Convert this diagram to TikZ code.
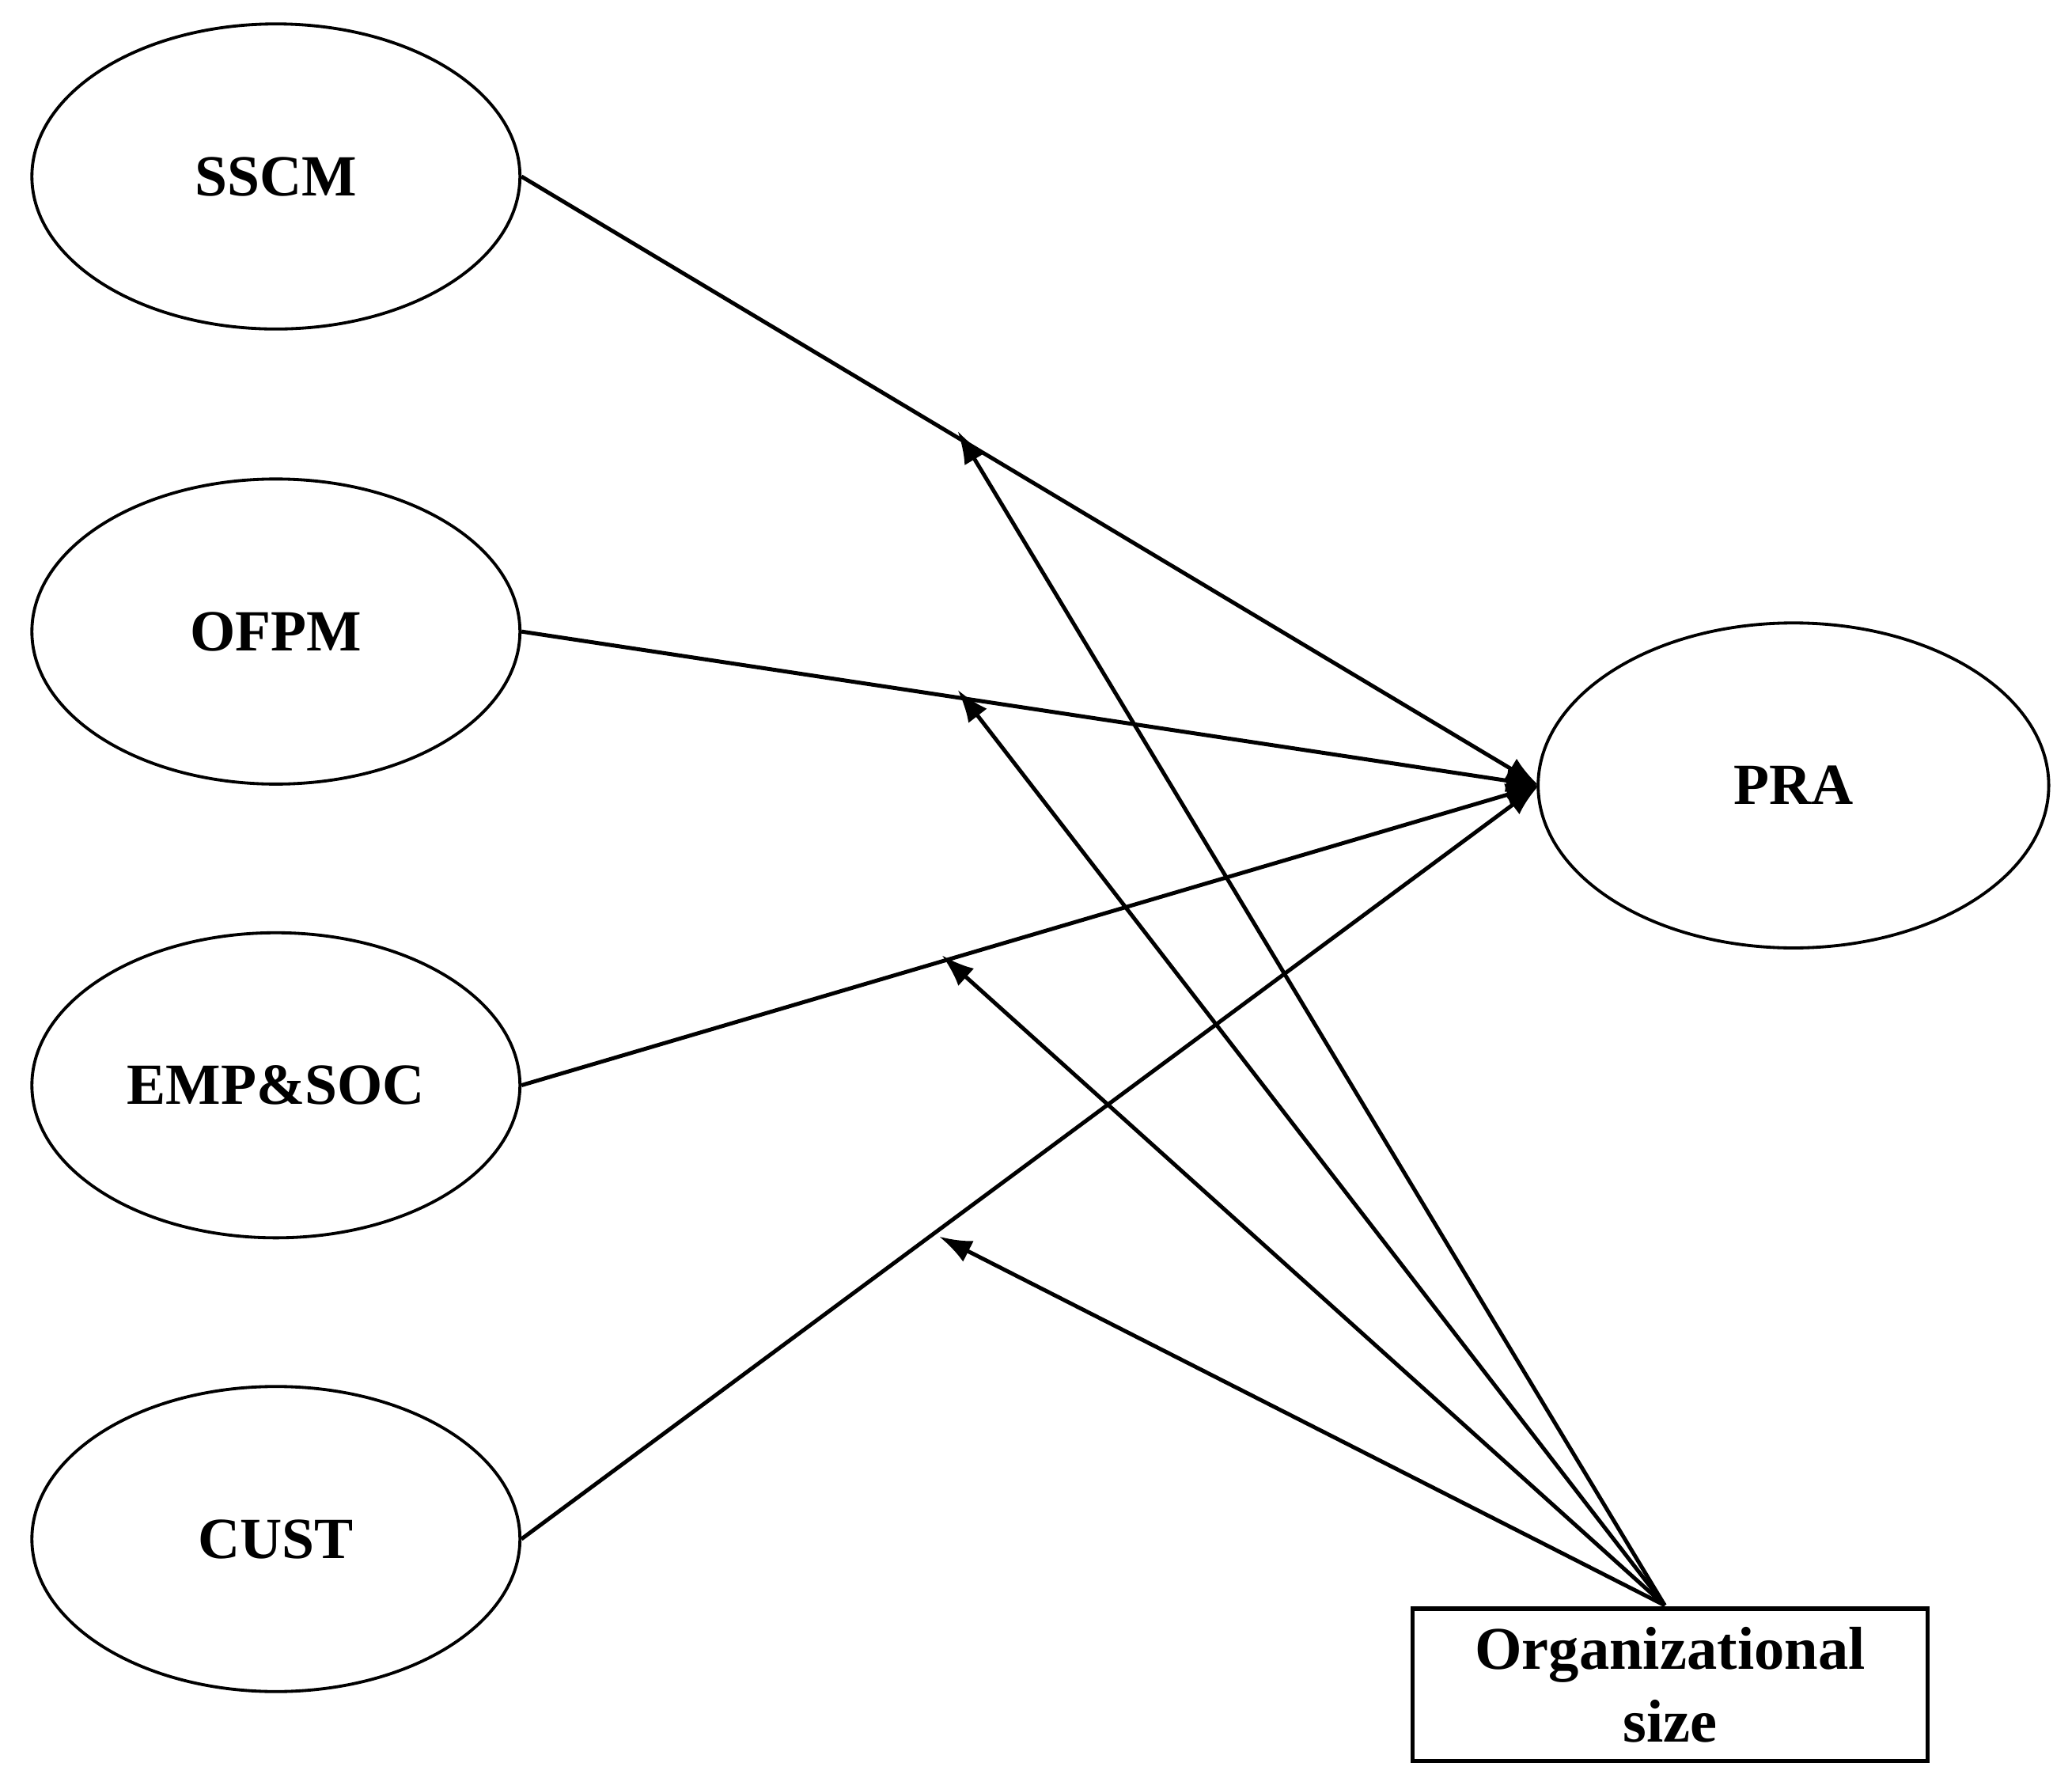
\documentclass[tikz,border=0pt]{standalone}
\usepackage{fontspec}
\setmainfont{Liberation Serif}
\usetikzlibrary{shapes.geometric,arrows.meta}
\begin{document}
\begin{tikzpicture}[x=0.02cm,y=-0.02cm,
  var/.style={ellipse,draw,line width=1.3pt,minimum width=7.36cm,minimum height=4.6cm,font=\fontsize{25}{28}\selectfont\bfseries},
  arr/.style={line width=1.7pt,-{Latex[length=14pt,width=10pt]}}]
\useasboundingbox (0,0) rectangle (1562,1340);
\node[var] (sscm) at (208,133) {SSCM};
\node[var] (ofpm) at (208,476) {OFPM};
\node[var] (emp) at (208,818) {EMP\&SOC};
\node[var] (cust) at (208,1160) {CUST};
\node[ellipse,draw,line width=1.3pt,minimum width=7.7cm,minimum height=4.9cm,font=\fontsize{25}{28}\selectfont\bfseries] (pra) at (1352,592) {PRA};
\node[draw,line width=1.8pt,minimum width=7.76cm,minimum height=2.3cm,align=center,font=\fontsize{26}{31}\selectfont\bfseries] (org) at (1259,1270) {Organizational\\size};
\coordinate (t) at (1160,592);
\coordinate (o) at (1255,1210);
\draw[arr] (sscm.east) -- (t);
\draw[arr] (ofpm.east) -- (t);
\draw[arr] (emp.east) -- (t);
\draw[arr] (cust.east) -- (t);
\coordinate (m1) at (722,325);
\coordinate (m2) at (722,520);
\coordinate (m3) at (710,720);
\coordinate (m4) at (708,932);
\draw[arr] (o) -- (m1);
\draw[arr] (o) -- (m2);
\draw[arr] (o) -- (m3);
\draw[arr] (o) -- (m4);
\end{tikzpicture}
\end{document}
